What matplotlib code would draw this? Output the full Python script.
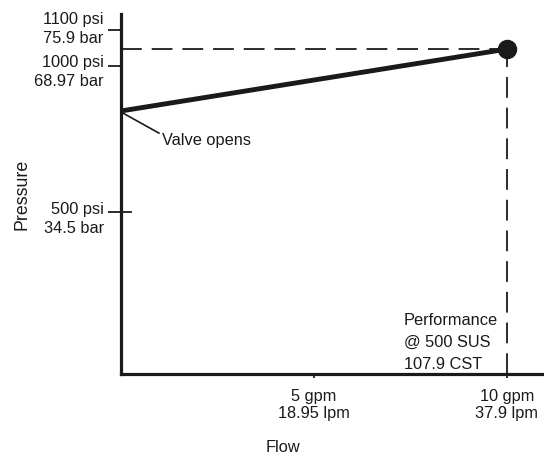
import matplotlib
matplotlib.use("Agg")
import matplotlib.pyplot as plt
import numpy as np
from matplotlib.transforms import ScaledTranslation

plt.rcParams['font.family'] = ['Liberation Sans', 'DejaVu Sans']

# Data
flow_gpm = [0, 10]
pressure_psi = [846, 1047]
ytick_vals = [500, 1000, 1100]
ytick_labels = ["500 psi\n34.5 bar", "1000 psi\n68.97 bar", "1100 psi\n75.9 bar"]
xtick_vals = [5, 10]
xtick_labels = ["5 gpm\n18.95 lpm", "10 gpm\n37.9 lpm"]
perf_text = "Performance\n@ 500 SUS\n107.9 CST"
valve_text = "Valve opens"

# schematic (non-uniform) pressure axis as drawn in the original
knots_psi = np.array([0, 500, 1000, 1100, 1200])
knots_pos = np.array([0, 162, 308, 344, 380])


def fwd(v):
    return np.interp(v, knots_psi, knots_pos, left=-1e3, right=1e3)


def inv(p):
    return np.interp(p, knots_pos, knots_psi)


W, H = 544, 456
fig = plt.figure(figsize=(W/100, H/100), dpi=100)
ax = fig.add_axes([121/W, (H-375)/H, (W-121)/W, (375-15)/H])
ax.set_yscale('function', functions=(fwd, inv))

ax.set_xlim(0, 10.96)
ax.set_ylim(0, inv(360))

fs = 11.8
col = '#1a1a1a'

# dashed guides
ax.plot([0, flow_gpm[1]], [pressure_psi[1]]*2, color=col, lw=1.3,
        dashes=(11.5, 5.5), zorder=2)
ax.plot([flow_gpm[1]]*2, [0, pressure_psi[1]], color=col, lw=1.3,
        dashes=(11.5, 5.5), zorder=2)

# main line
ax.plot(flow_gpm, pressure_psi, color=col, lw=3.5, solid_capstyle='butt', zorder=3)
ax.plot([flow_gpm[1]], [pressure_psi[1]], 'o', color=col, ms=13, zorder=4)

for s in ['top', 'right']:
    ax.spines[s].set_visible(False)
for s in ['left', 'bottom']:
    ax.spines[s].set_linewidth(2.3)
    ax.spines[s].set_color(col)

ax.set_yticks(ytick_vals)
ax.yaxis.set_minor_locator(matplotlib.ticker.NullLocator())
ax.set_yticklabels(ytick_labels, fontsize=fs, color=col, ha='right', va='top',
                   linespacing=1.35)
ax.tick_params(axis='y', which='major', length=9.5, width=1.3, color=col, pad=3,
               direction='out')
offsets_pt = [8, 8.5, 14]
for lab, o in zip(ax.get_yticklabels(), offsets_pt):
    lab.set_transform(lab.get_transform() +
                      ScaledTranslation(0, o/72, fig.dpi_scale_trans))

ax.set_xticks(xtick_vals)
ax.set_xticklabels(xtick_labels, fontsize=fs, color=col, linespacing=1.2)
ax.tick_params(axis='x', length=3, width=1.3, color=col, pad=7, direction='out')

# 500 psi tick crossing the axis
ax.plot([0, 0.27], [ytick_vals[0]]*2, color=col, lw=1.3, clip_on=False, zorder=5)

ax.text(7.33, inv(375 - 313), perf_text, fontsize=fs, color=col, ha='left',
        va='top', linespacing=1.6)

ax.annotate(valve_text, xy=(0.02, pressure_psi[0] - 5), xytext=(1.06, inv(375 - 141)),
            fontsize=fs, color=col, ha='left', va='center',
            arrowprops=dict(arrowstyle='-', color=col, lw=1.2,
                            shrinkA=0, shrinkB=0, relpos=(0, 0.85)))

fig.text(283/W, 1 - 448/H, "Flow", fontsize=fs, color=col, ha='center', va='center')
fig.text(22/W, 1 - 194/H, "Pressure", fontsize=12.8, color=col, ha='center',
         va='center', rotation=90)

fig.savefig("out.png", dpi=100)
